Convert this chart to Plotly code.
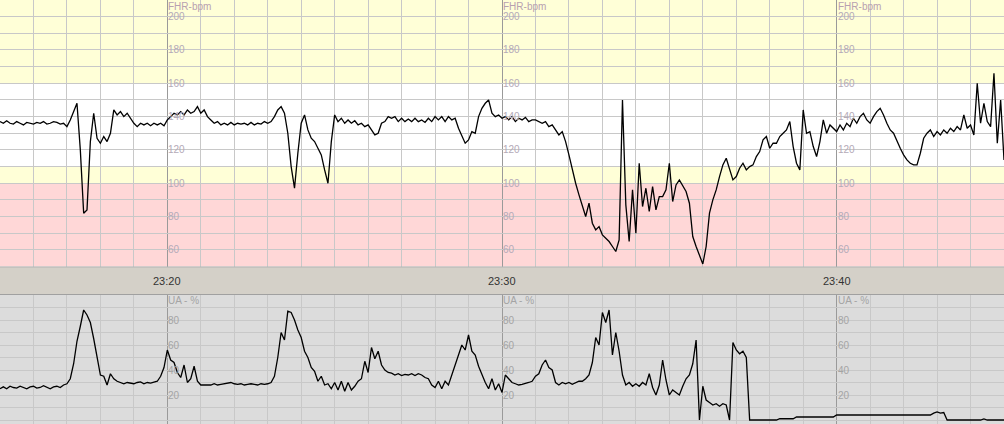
import plotly.graph_objects as go

# ---------------- data ----------------
STEP_S = 6  # one sample every 6 s, starting 23:15:00
fhr = [
    137, 136, 137.5, 136, 135.5, 137, 136, 135, 136.5, 136,
    135.5, 136.5, 136, 137, 135.5, 136, 137, 136.5, 135.5, 136,
    134, 138, 143, 148, 120, 82, 84, 125, 142, 127,
    124, 128, 125, 130, 144, 141, 143, 140, 142, 139,
    136, 134, 136, 135, 136, 134.5, 136, 135, 136, 134.5,
    138, 140, 142, 141, 143, 141, 144, 142, 143, 146,
    142, 144, 140, 138, 136, 137, 135, 136, 135, 136.5,
    135, 136, 135.5, 136, 135, 136.5, 135, 136, 135.5, 137,
    136, 137, 140, 144, 146, 142, 130, 110, 97, 118,
    136, 141, 132, 127, 125, 121, 117, 108, 100, 125,
    141, 137, 139, 136, 138, 136, 137.5, 135, 136, 134,
    135, 132, 129, 130, 136, 137, 140, 139, 140, 137,
    139, 137, 138.5, 137, 139, 137, 138, 136.5, 139, 137,
    140, 138, 140, 137, 140, 138, 139, 133, 128, 124,
    126, 131, 130, 140, 145, 148, 150, 142, 140, 141,
    139, 140, 138, 140, 137, 139, 138, 139.5, 137, 138,
    138, 137, 136, 137, 134, 135, 132, 129, 131, 125,
    117, 108, 100, 93, 86, 80, 88, 76, 72, 74,
    69, 67, 65, 62, 59, 66, 150, 87, 65, 96,
    70, 112, 86, 97, 83, 98, 84, 92, 92, 96,
    112, 89, 99, 102, 98, 95, 88, 68, 62, 57,
    51.5, 62, 82, 90, 96, 104, 111, 115, 108, 102,
    104, 109, 112, 108, 110, 111, 116, 119, 126, 128,
    121, 124, 124, 128, 130, 132, 137, 122, 112, 108,
    144, 130, 131, 122, 116, 125, 138, 130, 135, 133,
    131, 135, 132, 136, 134, 139, 136, 140, 142, 138,
    136, 140, 143, 145, 141, 136, 132, 130, 125, 121,
    117, 114, 112, 111, 111, 118, 127, 130, 132, 128,
    131, 129, 132, 130, 133, 131, 134, 132, 141, 133,
    135, 129, 160, 136, 148, 137, 134, 166, 124, 150,
    114,
]
ua = [
    25, 26.5, 25, 27, 26, 25.5, 27, 26, 25, 26.5,
    27, 25.5, 26, 27.5, 26, 25, 26.5, 27, 26, 28,
    29, 33, 45, 63, 75, 88, 84, 78, 65, 52,
    36, 35, 28, 37, 33, 31, 30, 29, 30, 29.5,
    29, 30, 30.5, 29, 30, 29.5, 30, 31, 35, 42,
    56, 48, 46, 38, 34, 44, 30, 33, 43, 31,
    28, 28, 27.5, 28, 29, 28, 28.5, 29, 29.5, 30,
    29, 28.5, 29, 28, 28.5, 29, 28.5, 28, 29, 28.5,
    29, 30, 35, 50, 70, 64, 87, 86, 80, 72,
    66, 55, 50, 42, 39, 31, 35, 28, 29, 25,
    30, 24, 31, 23, 30, 24, 27, 31, 33, 47,
    38, 58, 49, 55, 44, 40, 38, 37.5, 36, 37,
    35.5, 36.5, 36, 37, 35.5, 37, 36, 34, 33, 28,
    26, 31, 25, 31, 28, 36, 45, 52, 60, 56,
    68, 55, 52, 43, 36, 30, 25, 33, 24, 29,
    22, 36, 33, 30, 29, 28, 28.5, 29, 30, 31,
    35, 37, 44, 48, 42, 40, 30, 28, 30, 29,
    30, 28.5, 30, 31, 31, 33, 36, 46, 66, 60,
    86, 78, 88, 52, 70, 55, 36, 28, 30, 27,
    29, 27, 30, 28, 37, 26, 20, 28, 48, 32,
    20, 24, 22, 20, 27, 33, 36, 45, 64, 0,
    27, 16, 14, 12, 13, 11, 13, 12, 0, 62,
    56, 53, 55, 50, 0, 0, 0, 0, 0, 0,
    0, 0, 0, 1, 1, 1, 1, 1, 2.4, 2.4,
    2.4, 2.4, 2.4, 2.4, 2.4, 2.4, 2.4, 2.4, 2.4, 2.4,
    4, 4, 4, 4, 4, 4, 4, 4, 4, 4,
    4, 4, 4, 4, 4, 4, 4, 4, 4, 4,
    4, 4, 4, 4, 4, 4, 4, 4, 4, 5.5,
    6.5, 5.5, 6, 0, 0, 0, 0, 0, 0, 0,
    0, 0, 0, 0, 0.8, 0, 0, 0, 0, 0,
    0,
]
time_label_min = [5, 15, 25]           # minutes after 23:15
time_labels = ["23:20", "23:30", "23:40"]
fhr_ticks = [200, 180, 160, 140, 120, 100, 80, 60]
ua_ticks = [80, 60, 40, 20]
fhr_bands = [(160, 210, "#ffffd7"), (100, 110, "#ffffd7"), (50, 100, "#ffd7d7")]

t_fhr = [i * STEP_S / 60 for i in range(len(fhr))]
t_ua = [i * STEP_S / 60 for i in range(len(ua))]

H = 424
top_dom = [1 - 266.5 / H, 1]
bot_dom = [0, 1 - 295 / H]

fig = go.Figure()
fig.add_trace(go.Scatter(x=t_fhr, y=fhr, mode="lines", line=dict(color="black", width=1.3),
                         xaxis="x", yaxis="y", hoverinfo="skip"))
fig.add_trace(go.Scatter(x=t_ua, y=ua, mode="lines", line=dict(color="black", width=1.3),
                         xaxis="x2", yaxis="y2", hoverinfo="skip"))

xcommon = dict(range=[0, 30], showticklabels=False, ticks="", zeroline=False,
               showgrid=True, tick0=5, dtick=10, gridcolor="#9a9a9a", gridwidth=1,
               minor=dict(tick0=0, dtick=1, showgrid=True, gridcolor="#c8c8c8", gridwidth=1))
shapes = []
for lo, hi, col in fhr_bands:
    shapes.append(dict(type="rect", xref="x", yref="y", x0=0, x1=30, y0=lo, y1=hi,
                       fillcolor=col, line=dict(width=0), layer="below"))
shapes.append(dict(type="rect", xref="x2", yref="y2", x0=0, x1=30, y0=-5, y1=100,
                   fillcolor="#dcdcdc", line=dict(width=0), layer="below"))
shapes.append(dict(type="line", xref="paper", yref="paper", x0=0, x1=1,
                   y0=1 - 267 / H, y1=1 - 267 / H, line=dict(color="#b4b4b4", width=1)))
shapes.append(dict(type="line", xref="paper", yref="paper", x0=0, x1=1,
                   y0=1 - 294.5 / H, y1=1 - 294.5 / H, line=dict(color="#a0a0a0", width=1)))

ann = []
font_lab = "Liberation Sans, Arial, sans-serif"
for m, lab in zip(time_label_min, time_labels):
    ann.append(dict(x=m, xref="x", y=1 - 280.5 / H, yref="paper", text=lab, showarrow=False,
                    xanchor="center", yanchor="middle",
                    font=dict(family=font_lab, size=11, color="#333333")))
    ann.append(dict(x=m, xref="x", y=206, yref="y", text="FHR-bpm", showarrow=False,
                    xanchor="left", yanchor="middle", xshift=-1,
                    font=dict(family=font_lab, size=10, color="#b8a0b0")))
    for v in fhr_ticks:
        ann.append(dict(x=m, xref="x", y=v, yref="y", text=str(v), showarrow=False,
                        xanchor="left", yanchor="middle", xshift=-1,
                        font=dict(family=font_lab, size=10, color="#b4aab8")))
    ann.append(dict(x=m, xref="x2", y=96, yref="y2", text="UA - %", showarrow=False,
                    xanchor="left", yanchor="middle", xshift=-1,
                    font=dict(family=font_lab, size=10, color="#a4a4a4")))
    for v in ua_ticks:
        ann.append(dict(x=m, xref="x2", y=v, yref="y2", text=str(v), showarrow=False,
                        xanchor="left", yanchor="middle", xshift=-1,
                        font=dict(family=font_lab, size=10, color="#a4a4a4")))

fig.update_layout(
    width=1004, height=424,
    margin=dict(l=0, r=0, t=0, b=0),
    paper_bgcolor="#d4d0c8", plot_bgcolor="#ffffff",
    showlegend=False,
    xaxis=dict(domain=[0, 1], anchor="y", **xcommon),
    yaxis=dict(domain=top_dom, range=[50, 210], anchor="x", tick0=50, dtick=10,
               showgrid=True, gridcolor="#c8c8c8", showticklabels=False, ticks="", zeroline=False),
    xaxis2=dict(domain=[0, 1], anchor="y2", **xcommon),
    yaxis2=dict(domain=bot_dom, range=[-3.2, 100], anchor="x2", tick0=0, dtick=10,
                showgrid=True, gridcolor="#c8c8c8", showticklabels=False, ticks="", zeroline=False),
    shapes=shapes, annotations=ann,
)

fig.write_html("out.html", config={"displayModeBar": False},
               post_script="document.body.style.margin='0';document.body.style.padding='0';"
                           "document.body.style.overflow='hidden';")
